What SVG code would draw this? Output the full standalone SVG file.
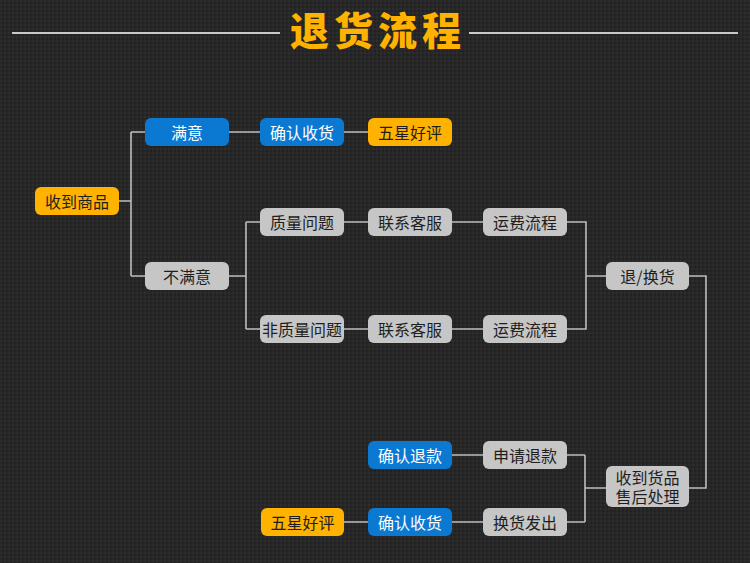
<svg xmlns="http://www.w3.org/2000/svg" width="750" height="563" viewBox="0 0 750 563">
<style>
.n rect{stroke:none}
.g rect{fill:#C6C6C6}
.b rect{fill:#0B79D2}
.o rect{fill:#FFB300}
.n text{font-family:"Noto Sans CJK SC","Noto Sans",sans-serif;font-size:16px;text-anchor:middle;dominant-baseline:central}
.g text,.o text{fill:#1E1E1E}
.b text{fill:#FFFFFF}
.c path{fill:none;stroke:#BDBDBD;stroke-width:1.6}
.title{font-family:"Noto Sans CJK SC",sans-serif;font-weight:900;font-size:39px;fill:#FFB300;text-anchor:middle;letter-spacing:5px}
.tl{stroke:#C8C8C8;stroke-width:2}
</style>
<defs>
<pattern id="tex" width="4" height="4" patternUnits="userSpaceOnUse">
<rect width="4" height="4" fill="#272727"/>
<rect x="0" y="0" width="2" height="2" fill="#2D2D2D"/>
<rect x="2" y="2" width="2" height="2" fill="#222222"/>
</pattern>
</defs>
<rect width="750" height="563" fill="url(#tex)"/>
<g id="title">
<line class="tl" x1="12" y1="33" x2="280" y2="33"/>
<line class="tl" x1="469" y1="33" x2="738" y2="33"/>
<text class="title" x="378" y="45">退货流程</text>
</g>
<g class="c" id="connectors">
<path d="M119 201H131M131 132V276M131 132H145M131 276H145"/>
<path d="M229 132H260M344 132H368"/>
<path d="M229 276H246M246 222V329M246 222H260M246 329H260"/>
<path d="M344 222H368M452 222H483M344 329H368M452 329H483"/>
<path d="M567 222H586V329H567M586 276H606"/>
<path d="M689 276H706V488H689"/>
<path d="M606 488H585M585 455V522M585 455H567M585 522H567"/>
<path d="M452 455H483M344 522H368M452 522H483"/>
</g>
<g id="n1" class="n o"><rect x="35" y="187" width="84" height="28" rx="6"/><text x="77" y="201">收到商品</text></g>
<g id="n2" class="n b"><rect x="145" y="118" width="84" height="28" rx="6"/><text x="187" y="132">满意</text></g>
<g id="n3" class="n g"><rect x="145" y="262" width="84" height="28" rx="6"/><text x="187" y="276">不满意</text></g>
<g id="n4" class="n b"><rect x="260" y="118" width="84" height="28" rx="6"/><text x="302" y="132">确认收货</text></g>
<g id="n5" class="n o"><rect x="368" y="118" width="84" height="28" rx="6"/><text x="410" y="132">五星好评</text></g>
<g id="n6" class="n g"><rect x="260" y="208" width="84" height="28" rx="6"/><text x="302" y="222">质量问题</text></g>
<g id="n7" class="n g"><rect x="368" y="208" width="84" height="28" rx="6"/><text x="410" y="222">联系客服</text></g>
<g id="n8" class="n g"><rect x="483" y="208" width="84" height="28" rx="6"/><text x="525" y="222">运费流程</text></g>
<g id="n9" class="n g"><rect x="260" y="315" width="84" height="28" rx="6"/><text x="302" y="329">非质量问题</text></g>
<g id="n10" class="n g"><rect x="368" y="315" width="84" height="28" rx="6"/><text x="410" y="329">联系客服</text></g>
<g id="n11" class="n g"><rect x="483" y="315" width="84" height="28" rx="6"/><text x="525" y="329">运费流程</text></g>
<g id="n12" class="n g"><rect x="606" y="262" width="83" height="28" rx="6"/><text x="647.5" y="276">退/换货</text></g>
<g id="n13" class="n g"><rect x="606" y="466" width="83" height="41" rx="6"/><text x="647.5" y="477"><tspan x="647.5" y="477">收到货品</tspan><tspan x="647.5" y="496">售后处理</tspan></text></g>
<g id="n14" class="n g"><rect x="483" y="441" width="84" height="28" rx="6"/><text x="525" y="455">申请退款</text></g>
<g id="n15" class="n b"><rect x="368" y="441" width="84" height="28" rx="6"/><text x="410" y="455">确认退款</text></g>
<g id="n16" class="n g"><rect x="483" y="508" width="84" height="28" rx="6"/><text x="525" y="522">换货发出</text></g>
<g id="n17" class="n b"><rect x="368" y="508" width="84" height="28" rx="6"/><text x="410" y="522">确认收货</text></g>
<g id="n18" class="n o"><rect x="261" y="508" width="83" height="28" rx="6"/><text x="302.5" y="522">五星好评</text></g>
</svg>
